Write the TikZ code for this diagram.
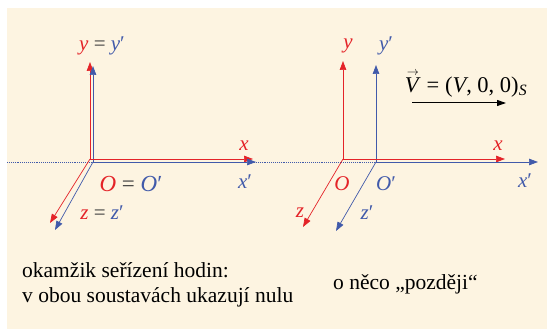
\documentclass[tikz,border=0pt]{standalone}
\usepackage{fontspec}
\setmainfont{Liberation Serif}
\usetikzlibrary{arrows.meta}
\definecolor{rc}{RGB}{228,35,40}
\definecolor{bc}{RGB}{65,90,170}
\definecolor{bgc}{RGB}{253,244,225}
\definecolor{eqc}{RGB}{60,60,60}
\begin{document}
\begin{tikzpicture}[x=1pt,y=-1pt,
  ax/.style={line width=0.7pt,-{Triangle[length=9pt,width=6.5pt]}},
  lab/.style={font=\fontsize{21}{25}\selectfont, inner sep=0pt},
  txt/.style={font=\fontsize{21.5}{26}\selectfont, inner sep=0pt, text=black}]
\useasboundingbox (0,0) rectangle (547,329);
\fill[white] (0,0) rectangle (547,329);
\fill[bgc] (7,8) rectangle (547,329);
% dotted reference line
\coordinate (dl) at (7,162);
\coordinate (dr) at (376,162);
\draw[bc, line width=0.9pt, densely dotted] (dl) -- (dr);
% left system
\coordinate (Lr) at (90,159);
\coordinate (Lb) at (93,162);
\coordinate (Lyr) at (90,62);
\coordinate (Lyb) at (93,66);
\coordinate (Lxr) at (253,159);
\coordinate (Lxb) at (256,162);
\coordinate (Lzr) at (50,223);
\coordinate (Lzb) at (55,230);
\draw[ax,rc] (Lr) -- (Lyr);
\draw[ax,bc] (Lb) -- (Lyb);
\draw[ax,rc] (Lr) -- (Lxr);
\draw[ax,bc] (Lb) -- (Lxb);
\draw[ax,rc] (Lr) -- (Lzr);
\draw[ax,bc] (Lb) -- (Lzb);
\node[lab] (lyy) at (102,46) {\textcolor{rc}{\textit{y}} \textcolor{eqc}{=} \textcolor{bc}{\textit{y}′}};
\node[lab,text=rc] (lx) at (244,146) {\textit{x}};
\node[lab,text=bc] (lxp) at (245,182) {\textit{x}′};
\node[lab,font=\fontsize{23}{27}\selectfont] (loo) at (131,184) {\textcolor{rc}{\textit{O}} \textcolor{eqc}{=} \textcolor{bc}{\textit{O}′}};
\node[lab] (lzz) at (102,213) {\textcolor{rc}{\textit{z}} \textcolor{eqc}{=} \textcolor{bc}{\textit{z}′}};
% right system
\coordinate (Rr) at (343,159);
\coordinate (Rb) at (376,162);
\coordinate (Ryr) at (343,61);
\coordinate (Ryb) at (376,65);
\coordinate (Rxr) at (505,159);
\coordinate (Rxb) at (538,162);
\coordinate (Rzr) at (303,227);
\coordinate (Rzb) at (336,231);
\draw[ax,rc] (Rr) -- (Ryr);
\draw[ax,bc] (Rb) -- (Ryb);
\draw[ax,rc] (Rr) -- (Rxr);
\draw[ax,bc] (Rb) -- (Rxb);
\draw[ax,rc] (Rr) -- (Rzr);
\draw[ax,bc] (Rb) -- (Rzb);
\node[lab,text=rc] (ry) at (348,46) {\textit{y}};
\node[lab,text=bc] (ryp) at (386,46) {\textit{y}′};
\node[lab,text=rc] (rx) at (498,146) {\textit{x}};
\node[lab,text=bc] (rxp) at (525,181) {\textit{x}′};
\node[lab,text=rc] (rO) at (342,184) {\textit{O}};
\node[lab,text=bc] (rOp) at (386,184) {\textit{O}′};
\node[lab,text=rc] (rz) at (300,213) {\textit{z}};
\node[lab,text=bc] (rzp) at (367,213) {\textit{z}′};
\node[lab,text=black,font=\fontsize{22.5}{27}\selectfont] (veq) at (466,84) {\textit{V}\kern-0.62em\raisebox{0.78em}{\fontsize{12}{12}\selectfont$\rightarrow$}\kern0.1em{} = (\textit{V}, 0, 0)\textsubscript{\textit{S}}};
\coordinate (va) at (412,103);
\coordinate (vb) at (506,103);
\draw[line width=1pt,-{Triangle[length=9pt,width=6pt]}] (va) -- (vb);
% bottom texts
\node[txt,anchor=base west] (t1) at (22,277) {okamžik seřízení hodin:};
\node[txt,anchor=base west] (t2) at (22,302) {v obou soustavách ukazují nulu};
\node[txt,anchor=base west] (t3) at (333,289) {o něco „později“};
\end{tikzpicture}
\end{document}
